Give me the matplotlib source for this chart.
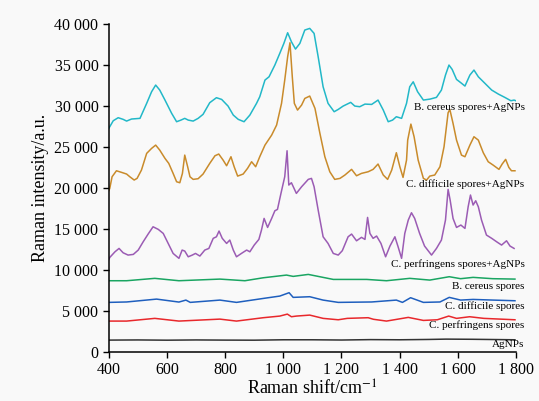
import matplotlib
matplotlib.use("Agg")
import matplotlib.pyplot as plt
from matplotlib.ticker import FuncFormatter

plt.rcParams['font.family'] = ['Liberation Serif', 'DejaVu Serif']
plt.rcParams['mathtext.fontset'] = 'stix'

# ---- data ----
bc_ag_x = [400, 403, 415, 432, 449, 461, 478, 507, 530, 547, 561, 575, 593, 616, 633, 648, 661, 673, 690, 707, 724,
           747, 770, 788, 810, 828, 845, 865, 885, 908, 919, 937, 951, 971, 988, 1002, 1015, 1028, 1042, 1057, 1074,
           1091, 1106, 1120, 1137, 1154, 1175, 1189, 1206, 1232, 1246, 1263, 1281, 1304, 1326, 1344, 1361, 1376,
           1389, 1407, 1424, 1435, 1447, 1462, 1482, 1505, 1527, 1544, 1558, 1570, 1581, 1596, 1611, 1625, 1642,
           1656, 1671, 1694, 1717, 1740, 1762, 1783, 1794, 1800]
bc_ag_y = [27300, 27480, 28210, 28580, 28380, 28170, 28420, 28500, 30330, 31750, 32560, 31950, 30730, 29110, 28090,
           28290, 28500, 28290, 28170, 28500, 28990, 30410, 31020, 30810, 30000, 28900, 28380, 28090, 28900, 30330,
           31130, 33170, 33570, 35000, 36430, 37640, 38940, 37840, 36950, 37640, 39270, 39470, 38860, 36010, 32350,
           30330, 29310, 29590, 30000, 30450, 30000, 29920, 30240, 30200, 30730, 29510, 28090, 28290, 28700, 28500,
           30330, 32350, 32960, 31750, 30730, 30850, 31060, 31950, 33780, 35000, 34470, 33250, 32840, 32440, 33780,
           34390, 33570, 32760, 31950, 31460, 31060, 30650, 30730, 30650]

cd_ag_x = [400, 403, 411, 426, 444, 461, 472, 487, 497, 512, 530, 547, 561, 575, 593, 606, 621, 633, 644, 653, 661,
           671, 679, 690, 707, 724, 747, 765, 778, 793, 805, 820, 831, 843, 862, 877, 891, 905, 919, 937, 960, 977,
           994, 1005, 1015, 1023, 1031, 1038, 1049, 1063, 1074, 1091, 1109, 1126, 1143, 1160, 1177, 1195, 1212, 1235,
           1252, 1269, 1292, 1309, 1326, 1344, 1359, 1373, 1389, 1401, 1412, 1424, 1428, 1439, 1450, 1464, 1482,
           1493, 1504, 1521, 1539, 1553, 1567, 1573, 1584, 1596, 1613, 1625, 1642, 1656, 1671, 1688, 1705, 1722,
           1742, 1753, 1765, 1776, 1785, 1797]
cd_ag_y = [19700, 19960, 21380, 22110, 21910, 21710, 21380, 20980, 21180, 22190, 24230, 24840, 25240, 24630, 23620,
           23010, 21790, 20770, 20650, 21790, 24020, 22600, 21380, 21060, 21140, 21710, 23010, 23940, 24150, 23410,
           22720, 23820, 22600, 21460, 21710, 22400, 23210, 22600, 23820, 25240, 26460, 27680, 30330, 33170, 36010,
           37720, 33570, 30330, 29510, 30120, 30930, 31220, 29720, 26670, 23820, 21990, 21060, 21180, 21590, 22280,
           21500, 21790, 21990, 22280, 22930, 21590, 21060, 22190, 24310, 22600, 21300, 23410, 25850, 27800, 26260,
           23410, 21180, 20980, 21460, 21590, 22600, 25030, 29180, 29590, 27890, 25850, 24020, 23820, 25240, 26260,
           25850, 24310, 23210, 22800, 22280, 22930, 23500, 22520, 22110, 22110]

cp_ag_x = [400, 403, 421, 435, 449, 466, 484, 501, 518, 535, 552, 570, 587, 604, 621, 641, 652, 661, 673, 687, 698,
           713, 730, 744, 759, 770, 779, 790, 805, 816, 828, 839, 856, 874, 885, 900, 916, 925, 934, 946, 960, 971,
           980, 992, 1005, 1013, 1019, 1028, 1045, 1063, 1086, 1097, 1106, 1120, 1137, 1154, 1172, 1189, 1203, 1223,
           1235, 1252, 1269, 1281, 1290, 1298, 1309, 1321, 1336, 1352, 1367, 1384, 1395, 1407, 1418, 1430, 1441,
           1452, 1469, 1486, 1510, 1527, 1544, 1558, 1567, 1574, 1584, 1596, 1611, 1625, 1636, 1644, 1653, 1662,
           1671, 1682, 1699, 1717, 1734, 1751, 1768, 1780, 1794]
cp_ag_y = [11300, 11540, 12230, 12640, 12110, 11830, 11910, 12440, 13450, 14390, 15280, 14960, 14470, 13250, 12030,
           11430, 12440, 12320, 11620, 11830, 12030, 11710, 12440, 12640, 13870, 14060, 14760, 13870, 13250, 13660,
           12440, 11620, 12030, 12440, 12230, 13050, 13740, 14880, 16300, 15200, 16300, 17230, 17400, 19350, 21380,
           24550, 20370, 20650, 19350, 20160, 21060, 21180, 20160, 17320, 14060, 13250, 12030, 11830, 12360, 14060,
           14390, 13570, 13990, 13740, 16420, 14470, 13870, 14150, 13250, 11620, 12930, 14060, 12840, 11430, 14470,
           16100, 16990, 16300, 14470, 12930, 11830, 12640, 13660, 16100, 19840, 18540, 16300, 15200, 15490, 15080,
           17720, 19150, 17930, 18450, 17720, 16100, 14270, 13870, 13450, 13050, 13570, 12930, 12640]

bc_x = [400, 461, 558, 641, 782, 868, 931, 1011, 1034, 1086, 1172, 1287, 1355, 1435, 1504, 1571, 1610, 1653, 1720, 1797]
bc_y = [8700, 8700, 8990, 8700, 8900, 8700, 9060, 9390, 9230, 9470, 8860, 8860, 8700, 8990, 8780, 9190, 8950, 9110,
        8950, 8900]

cd_x = [400, 461, 564, 641, 665, 680, 782, 839, 931, 988, 1020, 1034, 1091, 1137, 1189, 1304, 1389, 1410, 1438, 1482,
        1539, 1571, 1610, 1653, 1722, 1797]
cd_y = [6060, 6110, 6460, 6100, 6340, 6060, 6340, 6060, 6540, 6830, 7240, 6670, 6750, 6340, 6060, 6110, 6340, 6060,
        6630, 6060, 6110, 6670, 6340, 6420, 6340, 6260]

cp_x = [400, 461, 558, 641, 782, 839, 931, 988, 1014, 1028, 1045, 1091, 1137, 1189, 1220, 1292, 1310, 1355, 1430,
        1482, 1530, 1569, 1596, 1641, 1690, 1797]
cp_y = [3780, 3780, 4110, 3780, 4020, 3780, 4190, 4390, 4630, 4310, 4390, 4510, 4110, 3940, 4110, 4190, 4000, 3780,
        4230, 3860, 3940, 4390, 4110, 4310, 4110, 3940]

ag_x = [400, 500, 600, 700, 800, 900, 1000, 1100, 1200, 1300, 1400, 1500, 1560, 1650, 1797]
ag_y = [1460, 1480, 1450, 1480, 1460, 1450, 1500, 1500, 1470, 1520, 1500, 1540, 1580, 1560, 1500]

series_names = ["B. cereus spores+AgNPs", "C. difficile spores+AgNPs", "C. perfringens spores+AgNPs",
                "B. cereus spores", "C. difficile spores", "C. perfringens spores", "AgNPs"]
label_y = [29880, 20490, 10730, 8050, 5610, 3290, 980]

x_ticks = [400, 600, 800, 1000, 1200, 1400, 1600, 1800]
y_ticks = [0, 5000, 10000, 15000, 20000, 25000, 30000, 35000, 40000]

colors = ["#22b8c8", "#c98b2b", "#9b5cb4", "#1aa562", "#1f5fbe", "#e8282c", "#333333"]

# ---- plot ----
fig = plt.figure(figsize=(5.39, 4.01), dpi=100, facecolor="#f9f9f9")
ax = fig.add_axes([0.202, 0.122, 0.755, 0.818])
ax.set_facecolor("#f9f9f9")

all_x = [bc_ag_x, cd_ag_x, cp_ag_x, bc_x, cd_x, cp_x, ag_x]
all_y = [bc_ag_y, cd_ag_y, cp_ag_y, bc_y, cd_y, cp_y, ag_y]
for xs, ys, c in zip(all_x, all_y, colors):
    ax.plot(xs, ys, color=c, lw=1.1, solid_joinstyle="round")

for name, yy in zip(series_names, label_y):
    ax.text(1830, yy, name, ha="right", va="center", fontsize=8, clip_on=False)

ax.set_xlim(400, 1800)
ax.set_ylim(0, 40000)
ax.set_xticks(x_ticks)
ax.set_yticks(y_ticks)
fmt = FuncFormatter(lambda v, p: f"{int(v):,}".replace(",", " "))
ax.xaxis.set_major_formatter(fmt)
ax.yaxis.set_major_formatter(fmt)
ax.tick_params(labelsize=11.5, direction="out", length=4, width=1)
for s in ["top", "right"]:
    ax.spines[s].set_visible(False)
ax.spines["left"].set_linewidth(1.1)
ax.spines["bottom"].set_linewidth(1.1)
ax.set_xlabel(r"Raman shift/cm$^{-1}$", fontsize=13, labelpad=1)
ax.set_ylabel("Raman intensity/a.u.", fontsize=13, labelpad=4)

fig.savefig("out.png", dpi=100, facecolor=fig.get_facecolor())
